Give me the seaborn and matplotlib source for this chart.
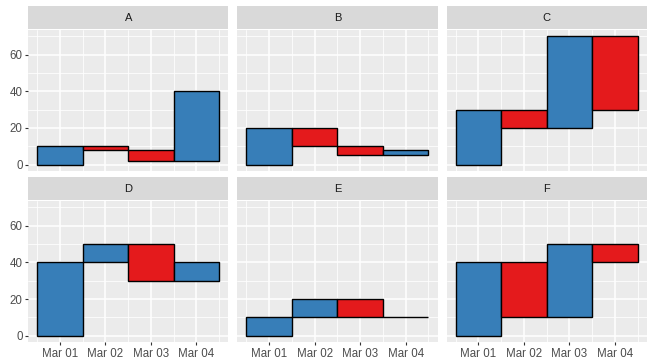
import pandas as pd
import matplotlib
matplotlib.use("Agg")
import matplotlib.pyplot as plt
import matplotlib.dates as mdates
from matplotlib.patches import Rectangle
from matplotlib.ticker import MultipleLocator
import seaborn as sns

# data: one waterfall per panel, change per day
panels = ["A", "B", "C", "D", "E", "F"]
dates = ["2021-03-01", "2021-03-02", "2021-03-03", "2021-03-04"]
changes_a = [10, -2, -6, 38]
changes_b = [20, -10, -5, 3]
changes_c = [30, -10, 50, -40]
changes_d = [40, 10, -20, 10]
changes_e = [10, 10, -10, 0]
changes_f = [40, -30, 40, -10]
all_changes = [changes_a, changes_b, changes_c, changes_d, changes_e, changes_f]

colours = {"up": "#377EB8", "down": "#E41A1C"}

rows = []
for p, ch in zip(panels, all_changes):
    level = 0
    for d, c in zip(dates, ch):
        rows.append({"panel": p, "date": pd.Timestamp(d), "start": level,
                     "change": c, "end": level + c})
        level += c
df = pd.DataFrame(rows)
df["x"] = mdates.date2num(df["date"])
df["dir"] = ["down" if c < 0 else "up" for c in df["change"]]

#%%
sns.set_theme(style="darkgrid", rc={
    "axes.facecolor": "#EBEBEB",
    "grid.color": "white",
    "grid.linewidth": 1.1,
    "xtick.color": "#333333",
    "ytick.color": "#333333",
    "xtick.labelcolor": "#4D4D4D",
    "ytick.labelcolor": "#4D4D4D",
    "xtick.bottom": True,
    "ytick.left": True,
    "xtick.major.size": 2.5,
    "ytick.major.size": 2.5,
    "xtick.major.width": 0.8,
    "ytick.major.width": 0.8,
    "xtick.major.pad": 1.5,
    "ytick.major.pad": 1.5,
    "xtick.labelsize": 8.3,
    "ytick.labelsize": 8.3,
})
plt.rcParams["font.family"] = ["Liberation Sans", "DejaVu Sans"]


def waterfall(data, **kws):
    ax = plt.gca()
    ax.bar(data["x"], data["change"], bottom=data["start"], width=1.0,
           color=[colours[d] for d in data["dir"]], edgecolor="black",
           linewidth=1.0, zorder=3)


g = sns.FacetGrid(df, col="panel", col_wrap=3, sharex=True, sharey=True)
g.map_dataframe(waterfall)
g.set_titles("")
g.set_axis_labels("", "")
g.figure.set_size_inches(6.54, 3.64)
g.figure.subplots_adjust(left=0.043, right=0.989, top=0.918, bottom=0.06,
                         wspace=0.045, hspace=0.213)

xmin, xmax = df["x"].min() - 0.5, df["x"].max() + 0.5
xpad = 0.05 * (xmax - xmin)
ymin = min(df["start"].min(), df["end"].min())
ymax = max(df["start"].max(), df["end"].max())
ypad = 0.05 * (ymax - ymin)

for i, (name, ax) in enumerate(g.axes_dict.items()):
    ax.set_xlim(xmin - xpad, xmax + xpad)
    ax.set_ylim(ymin - ypad, ymax + ypad)
    ax.xaxis.set_major_locator(mdates.DayLocator())
    ax.xaxis.set_minor_locator(mdates.HourLocator(byhour=12))
    ax.xaxis.set_major_formatter(mdates.DateFormatter("%b %d"))
    ax.yaxis.set_major_locator(MultipleLocator(20))
    ax.yaxis.set_minor_locator(MultipleLocator(10))
    ax.grid(which="minor", color="white", linewidth=0.55)
    ax.tick_params(which="minor", length=0)
    if i % 3 != 0:
        ax.tick_params(axis="y", length=0)
    if i < 3:
        ax.tick_params(axis="x", length=0)
    for s in ax.spines.values():
        s.set_visible(False)
    # grey strip on top of each panel
    strip_h = 23 / 141
    ax.add_patch(Rectangle((0, 1.005), 1, strip_h, transform=ax.transAxes,
                           facecolor="#D9D9D9", edgecolor="none", clip_on=False))
    ax.text(0.5, 1.005 + strip_h / 2, name, transform=ax.transAxes,
            ha="center", va="center", fontsize=8, color="#1A1A1A")

g.figure.savefig("out.png", dpi=100)
